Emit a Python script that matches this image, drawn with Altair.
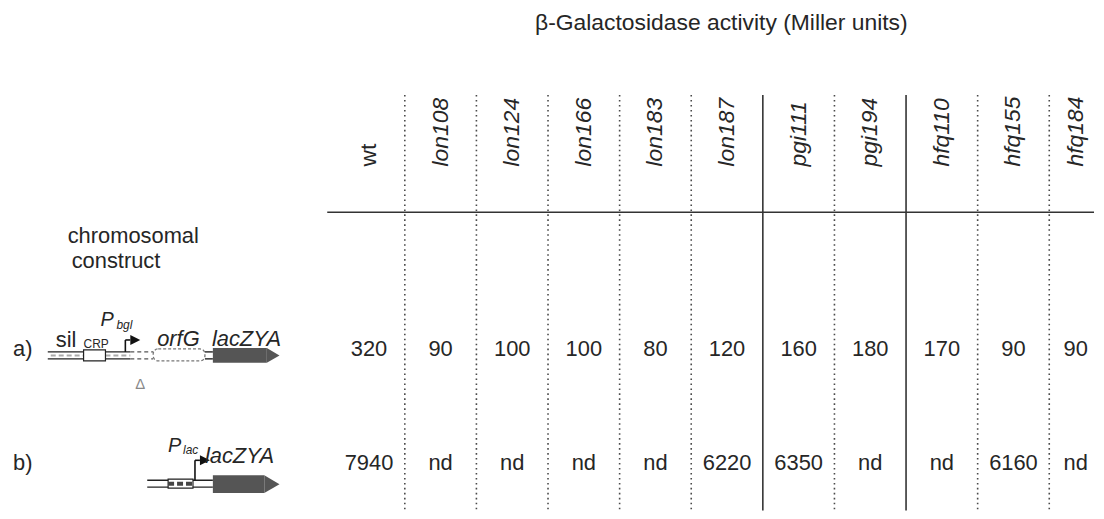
import altair as alt
import pandas as pd

# ---------------------------------------------------------------- data
strains = ["wt", "lon108", "lon124", "lon166", "lon183", "lon187",
           "pgi111", "pgi194", "hfq110", "hfq155", "hfq184"]
activity_a = ["320", "90", "100", "100", "80", "120", "160", "180", "170", "90", "90"]
activity_b = ["7940", "nd", "nd", "nd", "nd", "6220", "6350", "nd", "nd", "6160", "nd"]
construct_labels = ["a)", "b)"]
divider_kinds = ["dotted", "dotted", "dotted", "dotted", "dotted",
                 "solid", "dotted", "solid", "dotted", "dotted"]
title_text = "β-Galactosidase activity (Miller units)"
side_heading = ["chromosomal", "construct"]

# construct maps: (row, start, end) in construct units
dna_row = [1, 1, 1, 1, 1, 2]
dna_start = [0.0, 8.3, 15.8, 0.3, 5.8, 10.0]
dna_end = [8.3, 10.6, 16.6, 3.6, 8.3, 16.6]
dna_kind = ["solid", "deleted", "solid", "hatched", "hatched", "solid"]

box_row = [1, 1, 2]
box_name = ["CRP", "orfG", "lacO"]
box_start = [3.6, 10.6, 12.1]
box_end = [5.8, 15.8, 14.6]
box_kind = ["site", "deleted", "operator"]

gene_row = [1, 2]
gene_name = ["lacZYA", "lacZYA"]
gene_start = [16.6, 16.6]
gene_end = [23.3, 23.3]

prom_row = [1, 2]
prom_site = [7.8, 14.8]

# ---------------------------------------------------------------- layout
FONT = "Liberation Sans"
INK = "#262626"
H = 503
LEFT_W, RIGHT_W = 317, 771
ROW_PX = 115.0                      # pixels per table row
ys = alt.Scale(domain=[-1.96, 2.4139], reverse=True, nice=False, zero=False)
xs_t = alt.Scale(domain=[-0.0833, 10.625], nice=False, zero=False)
xs_d = alt.Scale(domain=[-3.9, 27.8], nice=False, zero=False)
TABLE_RIGHT = 10.74
TITLE_R, HEADER_R, HLINE_R, TOP_R = -1.847, -0.595, -0.195, -1.22


def X(f, sc):
    return alt.X(f, type="quantitative", scale=sc, axis=None)


def Y(f):
    return alt.Y(f, type="quantitative", scale=ys, axis=None)


def off(row, px):
    return row + px / ROW_PX


# ---------------------------------------------------------------- table panel
n = len(strains)
col_l = list(range(n))
col_r = [i + 1 for i in range(n - 1)] + [TABLE_RIGHT]
centers = [(a + b) / 2 for a, b in zip(col_l, col_r)]

title_df = pd.DataFrame({"t": [title_text], "u": [5.42], "r": [TITLE_R]})
title = alt.Chart(title_df).mark_text(font=FONT, fontSize=23, color=INK,
                                      baseline="middle", align="center").encode(
    x=X("u", xs_t), y=Y("r"), text="t:N")

hdr_df = pd.DataFrame({"strain": strains, "u": centers, "r": [HEADER_R] * n,
                       "italic": [s != "wt" for s in strains]})
hdr_base = alt.Chart(hdr_df).encode(x=X("u", xs_t), y=Y("r"), text="strain:N")
hdr_reg = hdr_base.transform_filter("!datum.italic").mark_text(
    font=FONT, fontSize=23, color=INK, angle=270, align="left", baseline="middle")
hdr_it = hdr_base.transform_filter("datum.italic").mark_text(
    font=FONT, fontSize=23, color=INK, angle=270, align="left", baseline="middle",
    fontStyle="italic")

val_df = pd.DataFrame({"u": centers * 2, "r": [1] * n + [2] * n,
                       "v": activity_a + activity_b})
vals = alt.Chart(val_df).mark_text(font=FONT, fontSize=22, color=INK,
                                   align="center", baseline="middle").encode(
    x=X("u", xs_t), y=Y("r"), text="v:N")

div_df = pd.DataFrame({"u": list(range(1, n)), "kind": divider_kinds,
                       "r0": [TOP_R] * (n - 1), "r1": [2.4139] * (n - 1)})
div_base = alt.Chart(div_df).encode(x=X("u", xs_t), y=Y("r0"), y2=alt.Y2("r1"))
div_dot = div_base.transform_filter("datum.kind == 'dotted'").mark_rule(
    color="#4a4a4a", strokeWidth=1.6, strokeDash=[1.6, 3.4])
div_sol = div_base.transform_filter("datum.kind == 'solid'").mark_rule(
    color="#333333", strokeWidth=1.6)

hl_df = pd.DataFrame({"u0": [-0.0833], "u1": [10.625], "r": [HLINE_R]})
hline = alt.Chart(hl_df).mark_rule(color="#333333", strokeWidth=1.6).encode(
    x=X("u0", xs_t), x2=alt.X2("u1"), y=Y("r"))

table = alt.layer(div_dot, div_sol, hline, title, hdr_reg, hdr_it, vals).properties(
    width=RIGHT_W, height=H)

# ---------------------------------------------------------------- construct panel
GEOM = {
    1: dict(line=(3, 10), box={"site": (1, 12), "deleted": (0, 12)},
            gene=(6.5, 7.5), prom_top=-9),
    2: dict(line=(17, 24), box={"operator": (16, 25)}, gene=(21, 9), prom_top=-3),
}

# DNA strands
dna_recs = []
for row, s, e, k in zip(dna_row, dna_start, dna_end, dna_kind):
    t, b = GEOM[row]["line"]
    if k == "hatched":
        dna_recs.append(dict(x0=s, x1=e, r=off(row, (t + b) / 2), kind=k))
    else:
        for dy in (t, b):
            dna_recs.append(dict(x0=s, x1=e, r=off(row, dy), kind=k))
dna_df = pd.DataFrame(dna_recs)
dna_base = alt.Chart(dna_df).encode(x=X("x0", xs_d), x2=alt.X2("x1"), y=Y("r"))
dna_solid = dna_base.transform_filter("datum.kind == 'solid'").mark_rule(
    color="#222222", strokeWidth=1.4)
dna_del = dna_base.transform_filter("datum.kind == 'deleted'").mark_rule(
    color="#555555", strokeWidth=1.4, strokeDash=[4, 3])
dna_hatch = dna_base.transform_filter("datum.kind == 'hatched'").mark_rule(
    color="#aaaaaa", strokeWidth=2, strokeDash=[5, 3])

# boxes
box_recs = []
for row, nm, s, e, k in zip(box_row, box_name, box_start, box_end, box_kind):
    t, b = GEOM[row]["box"][k]
    box_recs.append(dict(name=nm, x0=s, x1=e, r0=off(row, t), r1=off(row, b),
                         rm=off(row, (t + b) / 2), kind=k))
box_df = pd.DataFrame(box_recs)
box_base = alt.Chart(box_df).encode(x=X("x0", xs_d), x2=alt.X2("x1"),
                                    y=Y("r0"), y2=alt.Y2("r1"))
box_site = box_base.transform_filter("datum.kind == 'site'").mark_rect(
    fill="white", stroke="#222222", strokeWidth=1.2)
box_deleted = box_base.transform_filter("datum.kind == 'deleted'").mark_rect(
    fill="white", stroke="#777777", strokeWidth=1.3, strokeDash=[3, 2], cornerRadius=5)
box_oper = box_base.transform_filter("datum.kind == 'operator'").mark_rect(
    fill="white", stroke="#222222", strokeWidth=1.2)
oper_fill = alt.Chart(box_df).transform_filter("datum.kind == 'operator'").mark_rule(
    color="#444444", strokeWidth=4, strokeDash=[6, 3]).encode(
    x=X("x0", xs_d), x2=alt.X2("x1"), y=Y("rm"))

# genes (body + arrow tip)
gene_recs = []
for row, nm, s, e in zip(gene_row, gene_name, gene_start, gene_end):
    c, h = GEOM[row]["gene"]
    tip = 1.7 * h / 10.0
    gene_recs.append(dict(name=nm, x0=s, x1=e - tip, r0=off(row, c - h),
                          r1=off(row, c + h), rc=off(row, c), sz=(2 * h) ** 2))
gene_df = pd.DataFrame(gene_recs)
gene_body = alt.Chart(gene_df).mark_rect(color="#555555").encode(
    x=X("x0", xs_d), x2=alt.X2("x1"), y=Y("r0"), y2=alt.Y2("r1"))
gene_tip = alt.Chart(gene_df).mark_point(
    shape="M0,-1L1.7,0L0,1Z", filled=True, opacity=1, color="#555555",
    strokeWidth=0).encode(x=X("x1", xs_d), y=Y("rc"),
                          size=alt.Size("sz:Q", scale=None))

# promoters
prom_recs = []
for row, p in zip(prom_row, prom_site):
    g = GEOM[row]
    prom_recs.append(dict(x=p, x1=p + 0.5, r0=off(row, g["line"][0]),
                          r1=off(row, g["prom_top"])))
prom_df = pd.DataFrame(prom_recs)
prom_stem = alt.Chart(prom_df).mark_rule(color="#111111", strokeWidth=1.6).encode(
    x=X("x", xs_d), y=Y("r0"), y2=alt.Y2("r1"))
prom_shaft = alt.Chart(prom_df).mark_rule(color="#111111", strokeWidth=1.6).encode(
    x=X("x", xs_d), x2=alt.X2("x1"), y=Y("r1"))
prom_tip = alt.Chart(prom_df).mark_point(
    shape="M0,-1L2,0L0,1Z", filled=True, opacity=1, color="#111111",
    strokeWidth=0, size=100).encode(x=X("x1", xs_d), y=Y("r1"))

# labels on the constructs: (row, text, x, baseline offset px, role)
label_layout = [
    (1, "sil", 0.8, -2, "big"),
    (1, "CRP", 3.6, -1, "small"),
    (1, "P", 5.3, -23, "prom"),
    (1, "bgl", 6.9, -20, "sub"),
    (1, "orfG", 11.0, -3, "gene"),
    (1, "lacZYA", 16.5, -3, "gene"),
    (1, "Δ", 8.8, 40, "delta"),
    (2, "P", 12.1, -11, "prom"),
    (2, "lac", 13.6, -9, "sub"),
    (2, "lacZYA", 15.8, 0, "gene"),
]
ROLE = {"big": (22, False, INK), "small": (12, False, INK), "prom": (20, True, INK),
        "sub": (12, True, INK), "gene": (22, True, INK), "delta": (15, False, "#888888")}
lab_recs = []
for row, txt, x, dy, role in label_layout:
    fs, it, col = ROLE[role]
    lab_recs.append(dict(t=txt, x=x, r=off(row, dy), fs=fs, italic=it, col=col))
for i, lab in enumerate(construct_labels):
    lab_recs.append(dict(t=lab, x=-3.5, r=off(i + 1, 7), fs=22, italic=False, col=INK))
# side heading, two lines (second slightly indented)
for j, (txt, x) in enumerate(zip(side_heading, [2.0, 2.4])):
    lab_recs.append(dict(t=txt, x=x, r=0.0748 + j * 25 / ROW_PX, fs=22,
                         italic=False, col=INK))
lab_df = pd.DataFrame(lab_recs)
lab_base = alt.Chart(lab_df).encode(
    x=X("x", xs_d), y=Y("r"), text="t:N",
    size=alt.Size("fs:Q", scale=None), color=alt.Color("col:N", scale=None))
lab_reg = lab_base.transform_filter("!datum.italic").mark_text(
    font=FONT, align="left", baseline="alphabetic")
lab_it = lab_base.transform_filter("datum.italic").mark_text(
    font=FONT, align="left", baseline="alphabetic", fontStyle="italic")

constructs = alt.layer(
    dna_hatch, dna_solid, dna_del, box_site, box_deleted, box_oper, oper_fill,
    gene_body, gene_tip, prom_stem, prom_shaft, prom_tip, lab_reg, lab_it
).properties(width=LEFT_W, height=H)

chart = alt.hconcat(constructs, table, spacing=0).properties(
    padding=0).configure_view(stroke="transparent")

chart.save("out.html", embed_options={"renderer": "svg", "actions": False})
